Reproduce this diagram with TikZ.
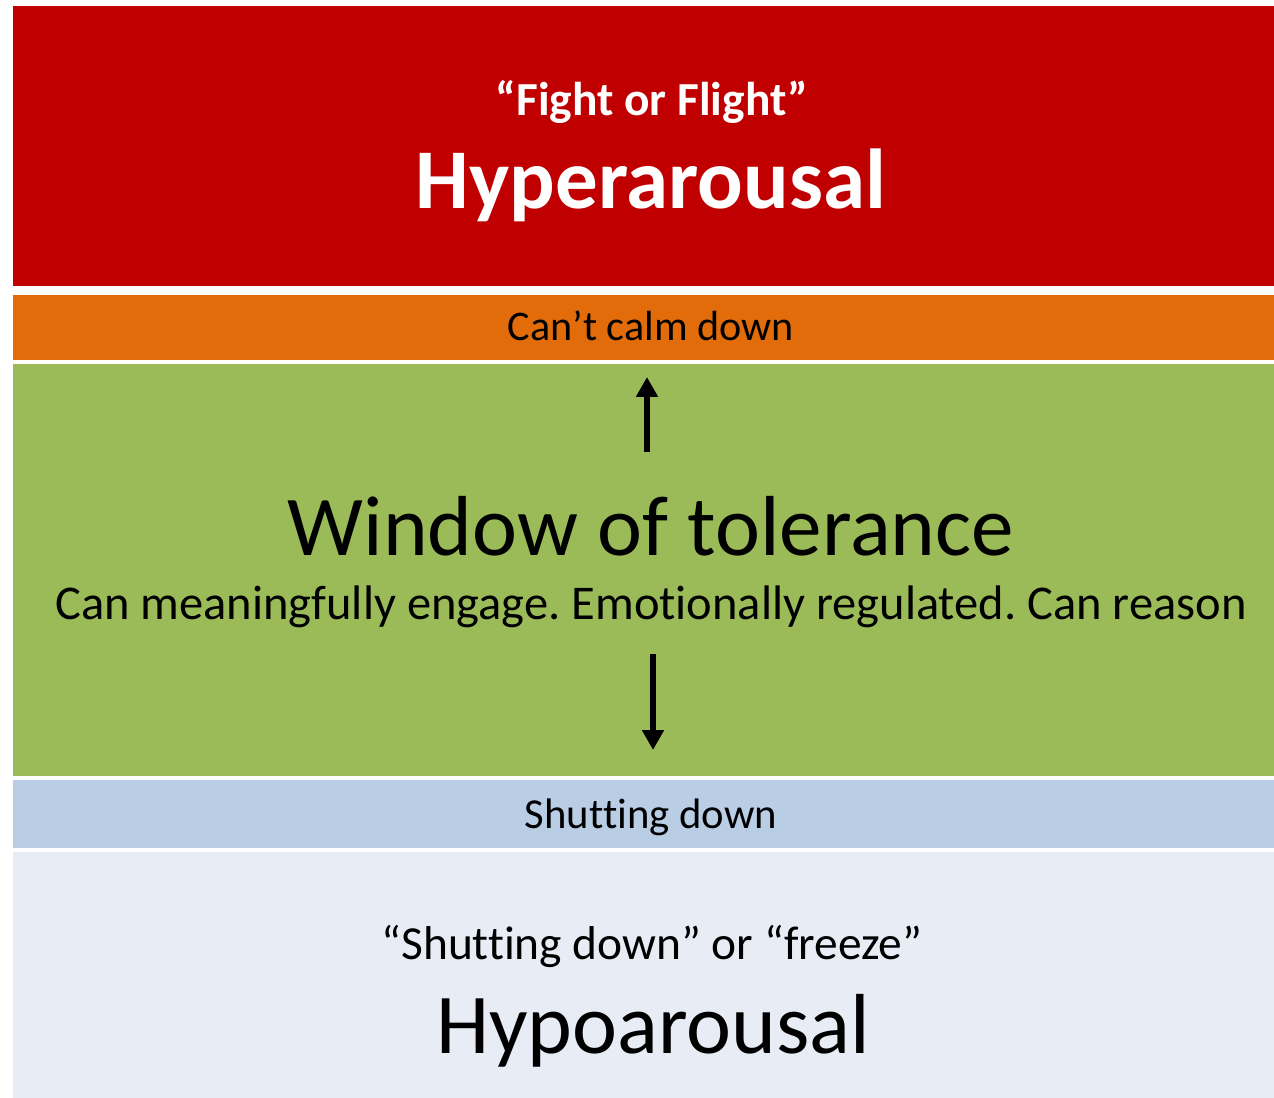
\documentclass[tikz,border=0pt]{standalone}
\usepackage{fontspec}
\setmainfont{Carlito}[Ligatures=NoCommon]
\usetikzlibrary{arrows.meta}
\definecolor{hyperred}{RGB}{192,0,0}
\definecolor{calmorange}{RGB}{227,108,10}
\definecolor{windowgreen}{RGB}{155,187,89}
\definecolor{shutblue}{RGB}{185,205,229}
\definecolor{hypogrey}{RGB}{232,237,245}
\frenchspacing
\begin{document}
\begin{tikzpicture}[x=0.02cm,y=-0.02cm,every node/.style={inner sep=0pt, outer sep=0pt},
  band/.style={anchor=north west, minimum width=25.22cm},
  bandtext/.style={anchor=base},
  arrowline/.style={line width=0.12cm, -{Triangle[width=0.42cm,length=0.4cm]}}]
\useasboundingbox (0,0) rectangle (1274,1098);
\node[band, fill=hyperred, minimum height=5.6cm] (hyper) at (13,6) {};
\node[band, fill=calmorange, minimum height=1.3cm] (calm) at (13,295) {};
\node[band, fill=windowgreen, minimum height=8.24cm] (window) at (13,364) {};
\node[band, fill=shutblue, minimum height=1.36cm] (shut) at (13,780) {};
\node[band, fill=hypogrey, minimum height=4.92cm] (hypo) at (13,852) {};
\node[bandtext, text=white, font=\bfseries\fontsize{27}{32}\selectfont] (fight) at (652,116) {“Fight or Flight”};
\node[bandtext, text=white, font=\bfseries\fontsize{48.4}{58}\selectfont] (hypertext) at (651,209) {Hyperarousal};
\node[bandtext, font=\fontsize{24}{29}\selectfont] (calmtext) at (651,340) {Can’t calm down};
\node[bandtext, font=\fontsize{48.5}{58}\selectfont] (windowtext) at (651,555) {Window of tolerance};
\node[bandtext, font=\fontsize{27.6}{33}\selectfont] (engage) at (651,619) {Can meaningfully engage. Emotionally regulated. Can reason};
\node[bandtext, font=\fontsize{24.3}{29}\selectfont] (shuttext) at (651,828) {Shutting down};
\node[bandtext, font=\fontsize{27}{32}\selectfont] (freeze) at (652,959) {“Shutting down” or “freeze”};
\node[bandtext, font=\fontsize{48.5}{58}\selectfont] (hypotext) at (653,1053) {Hypoarousal};
\coordinate (uptail) at (647,452);
\coordinate (uphead) at (647,377);
\coordinate (downtail) at (653,654);
\coordinate (downhead) at (653,750);
\draw[arrowline] (uptail) -- (uphead);
\draw[arrowline] (downtail) -- (downhead);
\end{tikzpicture}
\end{document}
